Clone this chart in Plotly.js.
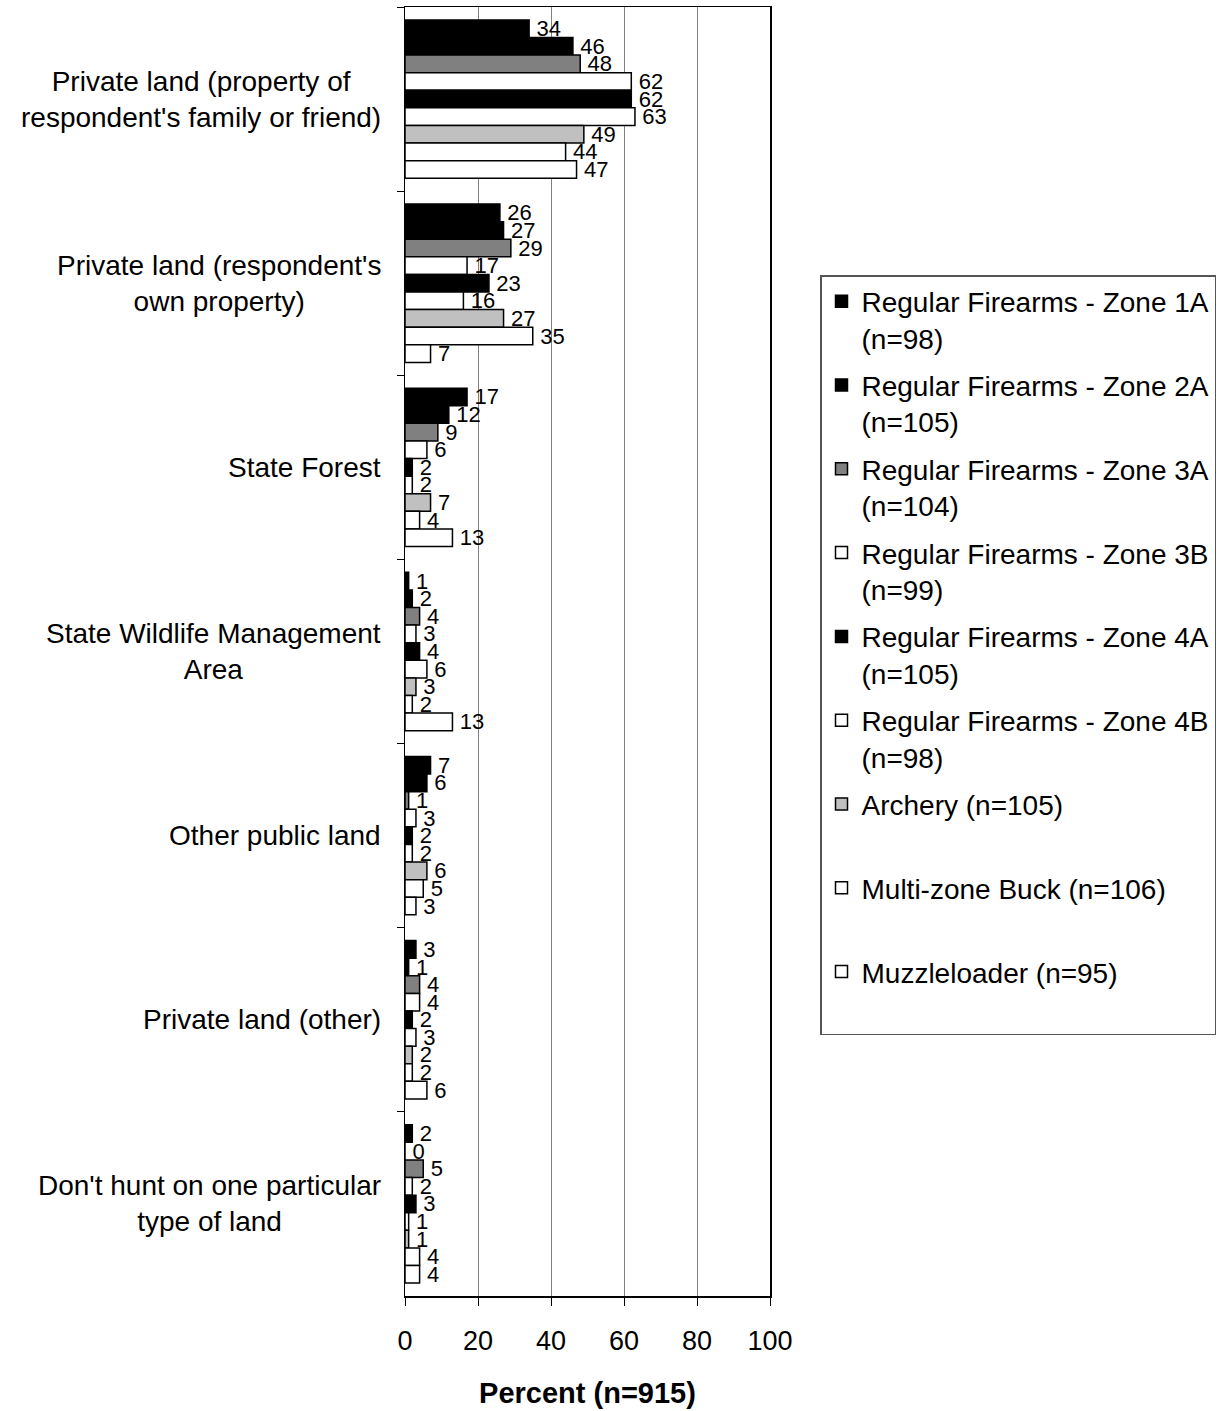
<!DOCTYPE html>
<html>
<head>
<meta charset="utf-8">
<script src="https://cdn.plot.ly/plotly-3.0.1.min.js"></script>
<style>body{margin:0;background:#fff;} #chart{width:1223px;height:1411px;}</style>
</head>
<body>
<div id="chart"></div>
<script>
const categories = [
  "Private land (property of<br>respondent's family or friend)",
  "Private land (respondent's<br>own property)",
  "State Forest",
  "State Wildlife Management<br>Area",
  "Other public land",
  "Private land (other)",
  "Don't hunt on one particular<br>type of land"
];
const seriesNames = [
  "Regular Firearms - Zone 1A<br>(n=98)",
  "Regular Firearms - Zone 2A<br>(n=105)",
  "Regular Firearms - Zone 3A<br>(n=104)",
  "Regular Firearms - Zone 3B<br>(n=99)",
  "Regular Firearms - Zone 4A<br>(n=105)",
  "Regular Firearms - Zone 4B<br>(n=98)",
  "Archery (n=105)<br>\u00a0",
  "Multi-zone Buck (n=106)<br>\u00a0",
  "Muzzleloader (n=95)<br>\u00a0"
];
const zone1A = [34, 26, 17, 1, 7, 3, 2];
const zone2A = [46, 27, 12, 2, 6, 1, 0];
const zone3A = [48, 29, 9, 4, 1, 4, 5];
const zone3B = [62, 17, 6, 3, 3, 4, 2];
const zone4A = [62, 23, 2, 4, 2, 2, 3];
const zone4B = [63, 16, 2, 6, 2, 3, 1];
const archery = [49, 27, 7, 3, 6, 2, 1];
const multiZone = [44, 35, 4, 2, 5, 2, 4];
const muzzleloader = [47, 7, 13, 13, 3, 6, 4];
const seriesValues = [zone1A, zone2A, zone3A, zone3B, zone4A, zone4B, archery, multiZone, muzzleloader];
const seriesColors = ["#000000", "#000000", "#808080", "#ffffff", "#000000", "#ffffff", "#c0c0c0", "#ffffff", "#ffffff"];
const xTickVals = [0, 20, 40, 60, 80, 100];

const FONT = "Liberation Sans, Arial, sans-serif";

const traces = seriesValues.map((vals, i) => ({
  type: "bar",
  orientation: "h",
  name: seriesNames[i],
  legendgroup: "g" + i,
  y: categories,
  x: vals,
  text: vals.map(v => "\u2009" + String(v)),
  textposition: "outside",
  cliponaxis: false,
  constraintext: "none",
  textfont: {family: FONT, size: 22, color: "#000"},
  marker: {color: seriesColors[i], line: {color: "#000", width: 1.5}},
  hoverinfo: "x+y+name"
}));

const annotations = categories.map(c => ({
  xref: "paper", yref: "y", x: 0, y: c, xanchor: "right", yanchor: "middle",
  xshift: -22, text: c, showarrow: false, align: "center",
  font: {family: FONT, size: 28, color: "#000"}
}));

const layout = {
  width: 1223, height: 1411,
  margin: {l: 405, r: 453, t: 7, b: 115},
  paper_bgcolor: "#fff", plot_bgcolor: "#fff",
  barmode: "group", bargap: 0.14, bargroupgap: 0,
  showlegend: true,
  font: {family: FONT, color: "#000"},
  xaxis: {
    range: [0, 100], tickvals: xTickVals, ticktext: xTickVals.map(String),
    showgrid: true, gridcolor: "#808080", gridwidth: 1, zeroline: false,
    showline: true, linecolor: "#000", linewidth: 1.5, mirror: true,
    ticks: "outside", ticklen: 8, tickcolor: "#000", tickwidth: 1,
    ticklabelstandoff: 12,
    tickfont: {family: FONT, size: 27, color: "#000"},
    title: {text: "<b>Percent (n=915)</b>", font: {family: FONT, size: 29, color: "#000"}, standoff: 28},
    automargin: false, fixedrange: true
  },
  yaxis: {
    type: "category", categoryarray: categories, categoryorder: "array",
    autorange: "reversed",
    showticklabels: false, tickson: "boundaries", ticks: "outside", ticklen: 7,
    tickcolor: "#000", tickwidth: 1,
    showgrid: false, zeroline: false,
    showline: true, linecolor: "#000", linewidth: 1.5, mirror: true,
    automargin: false, fixedrange: true
  },
  legend: {
    x: (820 - 405) / 365, xanchor: "left",
    y: (1296 - 275) / 1289, yanchor: "top",
    traceorder: "grouped", tracegroupgap: 8, valign: "top",
    bgcolor: "#fff", bordercolor: "#555", borderwidth: 1.5,
    font: {family: FONT, size: 28, color: "#000"},
    itemwidth: 30
  },
  annotations: annotations
};

Plotly.newPlot("chart", traces, layout, {displayModeBar: false, staticPlot: true});
</script>
</body>
</html>
